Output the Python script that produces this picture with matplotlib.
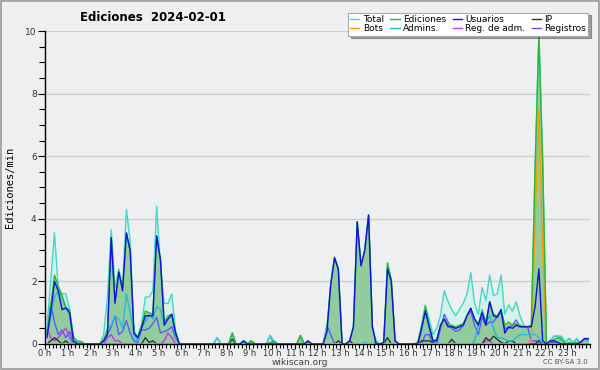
import numpy as np
import matplotlib
matplotlib.use("Agg")
import matplotlib.pyplot as plt
from matplotlib.patches import Rectangle
from matplotlib.ticker import MultipleLocator

# edits per minute, one value every 10 minutes (144 per day)
total = [
    0.5, 2.0, 3.55, 1.8, 1.6, 1.6, 1.1, 0.15, 0.1, 0.08, 0, 0,
    0, 0, 0, 0.3, 1.5, 3.65, 1.8, 2.4, 1.8, 4.3, 3.3, 0.4,
    0.25, 0.6, 1.5, 1.5, 1.7, 4.4, 2.5, 1.3, 1.3, 1.6, 0.4, 0,
    0, 0, 0, 0, 0, 0, 0, 0, 0, 0.2, 0, 0,
    0, 0.35, 0, 0, 0.1, 0, 0.1, 0, 0, 0, 0, 0.27,
    0.1, 0, 0, 0, 0, 0, 0, 0.27, 0, 0.1, 0, 0,
    0, 0, 0.6, 1.9, 2.77, 2.4, 0, 0, 0.1, 0.55, 3.9, 2.5,
    3.0, 4.12, 0.55, 0.1, 0, 0.05, 2.6, 2.05, 0.1, 0, 0, 0,
    0, 0, 0.05, 0.6, 1.25, 0.8, 0.3, 0.5, 0.9, 1.7, 1.35, 1.1,
    0.9, 1.1, 1.3, 1.6, 2.28, 1.3, 0.95, 1.8, 1.4, 2.2, 1.55, 1.6,
    2.2, 0.95, 1.25, 1.05, 1.35, 0.9, 0.6, 0.55, 0.6, 5.7, 10.0, 5.9,
    0.05, 0.1, 0.25, 0.25, 0.25, 0.05, 0.18, 0.05, 0.18, 0.05, 0.18, 0.18,
]
ediciones = [
    0.3, 1.2, 2.2, 1.85, 1.55, 1.15, 1.1, 0.25, 0.08, 0.08, 0, 0,
    0, 0, 0, 0.15, 0.4, 3.4, 1.4, 2.3, 1.8, 3.55, 3.0, 0.35,
    0.2, 0.6, 1.05, 1.0, 0.95, 3.45, 2.7, 0.7, 0.9, 0.95, 0.4, 0,
    0, 0, 0, 0, 0, 0, 0, 0, 0, 0, 0, 0,
    0, 0.35, 0, 0, 0.05, 0, 0.1, 0, 0, 0, 0, 0.05,
    0.08, 0, 0, 0, 0, 0, 0, 0.27, 0, 0.05, 0, 0,
    0, 0, 0.4, 1.9, 2.77, 2.4, 0, 0, 0.1, 0.55, 3.9, 2.5,
    3.0, 4.12, 0.55, 0, 0, 0.05, 2.58, 2.05, 0.1, 0, 0, 0,
    0, 0, 0.05, 0.55, 1.2, 0.6, 0.1, 0.15, 0.6, 0.8, 0.6, 0.6,
    0.55, 0.6, 0.65, 0.9, 1.14, 0.8, 0.65, 1.0, 0.7, 1.35, 0.95, 0.9,
    1.1, 0.6, 0.7, 0.6, 0.65, 0.6, 0.55, 0.55, 0.6, 5.6, 9.8, 5.8,
    0, 0.05, 0.15, 0.2, 0.15, 0, 0.05, 0, 0.05, 0.05, 0.15, 0.15,
]
usuarios = [
    0.2, 1.0, 2.0, 1.7, 1.1, 1.15, 1.0, 0.1, 0, 0, 0, 0,
    0, 0, 0, 0.1, 0.3, 3.4, 1.3, 2.3, 1.7, 3.55, 3.0, 0.35,
    0.2, 0.5, 0.9, 0.9, 0.9, 3.45, 2.7, 0.6, 0.8, 0.95, 0.35, 0,
    0, 0, 0, 0, 0, 0, 0, 0, 0, 0, 0, 0,
    0, 0, 0, 0, 0.1, 0, 0, 0, 0, 0, 0, 0,
    0, 0, 0, 0, 0, 0, 0, 0, 0, 0.1, 0, 0,
    0, 0, 0.4, 1.9, 2.75, 2.4, 0, 0, 0.1, 0.55, 3.9, 2.5,
    3.0, 4.12, 0.55, 0, 0, 0.05, 2.4, 2.0, 0.1, 0, 0, 0,
    0, 0, 0, 0.5, 1.05, 0.55, 0.1, 0.1, 0.6, 0.8, 0.55, 0.55,
    0.5, 0.55, 0.6, 0.9, 1.14, 0.8, 0.6, 1.0, 0.6, 1.35, 0.9, 0.85,
    1.1, 0.35, 0.55, 0.5, 0.6, 0.55, 0.55, 0.55, 0.55, 1.2, 2.4, 0.1,
    0, 0.1, 0.1, 0.05, 0, 0, 0, 0, 0, 0.05, 0.17, 0.17,
]
ip = [
    0, 0.1, 0.2, 0.1, 0, 0.1, 0, 0, 0, 0, 0, 0,
    0, 0, 0, 0, 0, 0, 0, 0, 0, 0, 0, 0,
    0, 0, 0.2, 0.05, 0.1, 0, 0, 0, 0, 0, 0, 0,
    0, 0, 0, 0, 0, 0, 0, 0, 0, 0, 0, 0,
    0, 0.15, 0, 0, 0, 0, 0.1, 0, 0, 0, 0, 0,
    0, 0, 0, 0, 0, 0, 0, 0.27, 0, 0, 0, 0,
    0, 0, 0, 0, 0, 0.1, 0, 0, 0.1, 0, 0, 0,
    0, 0, 0, 0, 0, 0, 0.2, 0, 0, 0, 0, 0,
    0, 0, 0, 0.1, 0.1, 0.1, 0.05, 0, 0, 0, 0, 0.15,
    0, 0, 0, 0, 0, 0, 0, 0, 0.2, 0.1, 0.25, 0.15,
    0.05, 0, 0.1, 0.1, 0, 0, 0, 0, 0, 0, 0.1, 0,
    0, 0, 0, 0, 0, 0, 0, 0, 0, 0, 0, 0,
]
bots = [0] * 128 + [0.1, 3.9, 7.5, 2.9] + [0] * 12
admins = [
    0.3, 0.9, 1.5, 1.7, 1.5, 1.2, 0.9, 0.1, 0.05, 0, 0, 0,
    0, 0, 0, 0.1, 0.5, 0.6, 0.9, 0.8, 0.5, 1.6, 1.0, 0.3,
    0.1, 0.5, 0.7, 0.95, 0.8, 1.2, 1.1, 0.6, 0.8, 0.95, 0.25, 0,
    0, 0, 0, 0, 0, 0, 0, 0, 0, 0, 0, 0,
    0, 0, 0, 0, 0, 0, 0, 0, 0, 0, 0, 0,
    0.1, 0, 0, 0, 0, 0, 0, 0, 0, 0, 0, 0,
    0, 0, 0, 0, 0, 0, 0, 0, 0, 0, 0, 0,
    0.05, 0, 0, 0.1, 0, 0, 0, 0, 0, 0, 0, 0,
    0, 0, 0, 0.4, 1.1, 0.6, 0.1, 0, 0, 0, 0, 0,
    0, 0, 0, 0, 0, 0.1, 0.6, 1.1, 0.7, 0.9, 0.5, 0.2,
    0.2, 0.15, 0.1, 0.1, 0.2, 0.3, 0.3, 0.3, 0.3, 0.3, 0.2, 0,
    0, 0.1, 0.25, 0.25, 0.2, 0.05, 0.18, 0, 0.15, 0.05, 0.15, 0.1,
]
reg_adm = [
    0.5, 0.2, 0.1, 0.2, 0.35, 0.5, 0.2, 0, 0, 0, 0, 0,
    0, 0, 0, 0, 0.2, 0.3, 0.1, 0.1, 0, 0, 0, 0,
    0, 0, 0, 0, 0, 0, 0, 0.1, 0.35, 0.2, 0, 0,
] + [0] * 80 + [0.1, 0.1] + [0] * 10 + [0.1, 0.1] + [0] * 14
registros = [
    0.4, 1.3, 0.7, 0.3, 0.45, 0.2, 0.4, 0, 0, 0, 0, 0,
    0, 0, 0, 0.1, 0.3, 0.55, 0.9, 0.3, 0.4, 0.75, 0.35, 0.1,
    0.05, 0.45, 0.45, 0.5, 0.65, 0.85, 0.35, 0.4, 0.45, 0.55, 0.2, 0,
    0, 0, 0, 0, 0, 0, 0, 0, 0, 0.2, 0, 0,
    0, 0, 0, 0, 0.1, 0, 0, 0, 0, 0, 0, 0.27,
    0, 0, 0, 0, 0, 0, 0, 0, 0, 0, 0, 0,
    0, 0, 0.6, 0.3, 0, 0, 0, 0, 0, 0, 0, 0,
    0, 0, 0, 0, 0, 0, 0, 0, 0, 0, 0, 0,
    0, 0, 0, 0, 0.3, 0.3, 0, 0, 0.5, 0.95, 0.7, 0.5,
    0.4, 0.45, 0.6, 0.9, 1.05, 0.6, 0.3, 0.85, 0.6, 0.7, 0.7, 0.9,
    1.0, 0.5, 0.5, 0.6, 0.77, 0.55, 0.55, 0.55, 0.1, 0.1, 0.1, 0,
    0, 0.05, 0.05, 0, 0, 0, 0, 0, 0, 0, 0, 0,
]
hour_labels = [str(h) + " h" for h in range(24)]

hours = (np.arange(len(total)) + 0.5) / 6.0
bg = "#eeeff1"

fig = plt.figure(figsize=(6, 3.7), dpi=100, facecolor=bg)
ax = fig.add_axes([0.075, 0.0703, 0.9083, 0.8459], facecolor=bg)

# filled areas first, lines on top
ax.fill_between(hours, total, color="#d6f1ea", lw=0, zorder=1)
ax.fill_between(hours, ediciones, color="#8fca98", alpha=0.95, lw=0, zorder=2)

lines = {}
lines["Registros"] = ax.plot(hours, registros, color="#5a5aff", lw=1.0, zorder=3)[0]
lines["Reg. de adm."] = ax.plot(hours, reg_adm, color="#cc33ee", lw=1.0, zorder=3)[0]
lines["IP"] = ax.plot(hours, ip, color="#333333", lw=1.0, zorder=3)[0]
lines["Admins."] = ax.plot(hours, admins, color="#22bbdd", lw=1.0, zorder=4)[0]
lines["Total"] = ax.plot(hours, total, color="#40d8c8", lw=1.0, zorder=4)[0]
lines["Bots"] = ax.plot(hours, bots, color="#ff9900", lw=1.0, zorder=5)[0]
lines["Ediciones"] = ax.plot(hours, ediciones, color="#2eb82e", lw=1.0, zorder=5)[0]
lines["Usuarios"] = ax.plot(hours, usuarios, color="#1010e0", lw=1.0, zorder=6)[0]

ax.set_xlim(0, 24)
ax.set_ylim(0, 10)
ax.set_xticks(range(24))
ax.set_xticklabels(hour_labels)
ax.xaxis.set_minor_locator(MultipleLocator(1 / 6))
ax.yaxis.set_major_locator(MultipleLocator(2))
ax.yaxis.set_minor_locator(MultipleLocator(0.5))
ax.tick_params(axis="y", which="major", labelsize=6.5, length=5, width=0.8,
               labelcolor="#333333", pad=1)
ax.tick_params(axis="y", which="minor", length=4, width=0.8)
ax.tick_params(axis="x", which="major", labelsize=6, length=3.5, width=0.8,
               labelcolor="#333333", pad=0)
ax.tick_params(axis="x", which="minor", length=3, width=0.8)
ax.grid(axis="y", color="#cccccc", lw=0.9, zorder=0)
for s in ["top", "right"]:
    ax.spines[s].set_visible(False)
ax.spines["left"].set_linewidth(1.0)
ax.spines["bottom"].set_linewidth(1.0)

ax.set_ylabel("Ediciones/min", family="DejaVu Sans Mono", fontsize=7.5, labelpad=7)
fig.text(0.255, 0.953, "Ediciones  2024-02-01", ha="center", va="center",
         fontsize=8.5, fontweight="bold")

# legend, filled column by column
order = ["Total", "Bots", "Ediciones", "Admins.", "Usuarios", "Reg. de adm.", "IP", "Registros"]
leg = fig.legend([lines[k] for k in order], order, ncol=4, loc="upper right",
                 bbox_to_anchor=(0.988, 0.978), fontsize=6.5, frameon=True,
                 fancybox=False, shadow=True, edgecolor="#aaaaaa",
                 handlelength=1.0, handletextpad=0.4, columnspacing=0.7,
                 labelspacing=0.05, borderpad=0.25)
leg.get_frame().set_linewidth(0.8)

fig.text(0.5, 0.021, "wikiscan.org", ha="center", va="center", fontsize=6.5, color="#444444")
fig.text(0.942, 0.021, "CC BY-SA 3.0", ha="center", va="center", fontsize=5, color="#555555")

# thin frame around the whole image
fig.patches.append(Rectangle((0.002, 0.003), 0.996, 0.994, transform=fig.transFigure,
                             fill=False, edgecolor="#999999", lw=1.2))

fig.savefig("out.png", dpi=100, facecolor=bg)
